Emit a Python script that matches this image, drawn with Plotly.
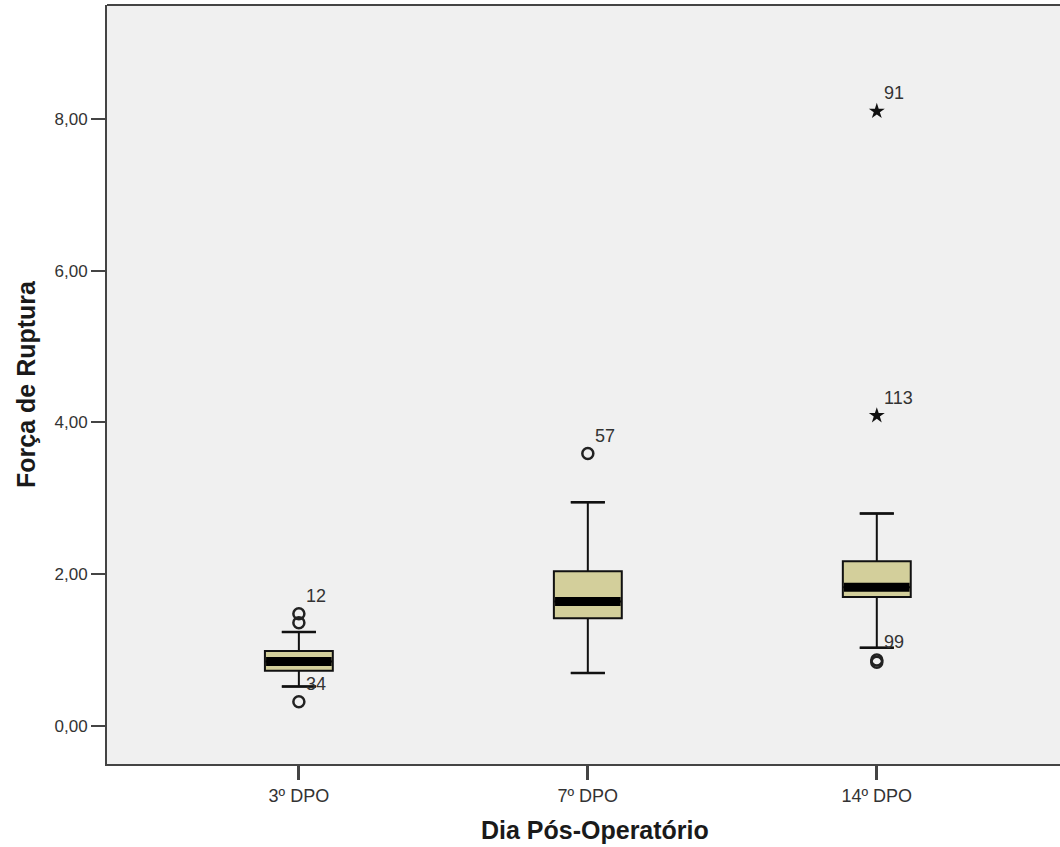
import plotly.graph_objects as go

# Grupos (dia pós-operatório) e estatísticas dos boxplots
groups = ["3º DPO", "7º DPO", "14º DPO"]
positions = [0, 1, 2]
q1 = [0.73, 1.42, 1.70]
median = [0.85, 1.64, 1.83]
q3 = [0.99, 2.04, 2.17]
whisker_low = [0.52, 0.70, 1.03]
whisker_high = [1.24, 2.95, 2.80]

# Valores atípicos (círculos) e extremos (estrelas), com o número do caso
outlier_group = [0, 0, 0, 1, 2, 2]
outlier_value = [1.48, 1.36, 0.32, 3.59, 0.87, 0.84]
outlier_case = ["12", "", "34", "57", "99", ""]

extreme_group = [2, 2]
extreme_value = [8.10, 4.09]
extreme_case = ["91", "113"]

y_ticks = [0, 2, 4, 6, 8]

BOX_W = 0.235
CAP_W = 0.118
FILL = "#d3cf9b"
INK = "#111111"
TEXT = "#333333"
FONT = "Liberation Sans, Arial, sans-serif"

fig = go.Figure()

fig.add_trace(go.Box(
    x=positions, q1=q1, median=median, q3=q3,
    lowerfence=whisker_low, upperfence=whisker_high,
    width=BOX_W, fillcolor=FILL,
    line=dict(color=INK, width=2),
    boxpoints=False, showlegend=False, hoverinfo="skip",
))

# Mediana em faixa espessa e travessões dos bigodes
for i, p in enumerate(positions):
    fig.add_trace(go.Scatter(
        x=[p - BOX_W / 2 + 0.004, p + BOX_W / 2 - 0.004], y=[median[i], median[i]],
        mode="lines", line=dict(color="black", width=9),
        showlegend=False, hoverinfo="skip",
    ))
    for w in (whisker_low[i], whisker_high[i]):
        fig.add_trace(go.Scatter(
            x=[p - CAP_W / 2, p + CAP_W / 2], y=[w, w],
            mode="lines", line=dict(color=INK, width=2.5),
            showlegend=False, hoverinfo="skip",
        ))

fig.add_trace(go.Scatter(
    x=[positions[g] for g in outlier_group], y=outlier_value,
    mode="markers",
    marker=dict(symbol="circle-open", size=11, color="#222222", line=dict(width=2.5, color="#222222")),
    showlegend=False, hoverinfo="skip",
))
fig.add_trace(go.Scatter(
    x=[positions[g] for g in extreme_group], y=extreme_value,
    mode="markers",
    marker=dict(symbol="star", size=12, color="#111111", line=dict(width=0)),
    showlegend=False, hoverinfo="skip",
))

# Rótulos com o número do caso
for g, v, lab in list(zip(outlier_group, outlier_value, outlier_case)) + list(zip(extreme_group, extreme_value, extreme_case)):
    if not lab:
        continue
    fig.add_annotation(
        x=positions[g], y=v, xref="x", yref="y", text=lab, showarrow=False,
        xanchor="left", yanchor="middle", xshift=5, yshift=18,
        font=dict(family=FONT, size=18, color=TEXT),
    )

fig.add_annotation(
    x=1, y=0, xref="x", yref="paper", text="<b>Dia Pós-Operatório</b>",
    showarrow=False, xanchor="center", yanchor="middle", xshift=7, yshift=-66,
    font=dict(family=FONT, size=25, color="#1a1a1a"),
)

# Moldura superior do painel (sem linha à direita)
fig.add_shape(
    type="line", xref="paper", yref="paper", x0=0, x1=1.01, y0=1, y1=1,
    line=dict(color="#444444", width=2), layer="above",
)

fig.update_layout(
    width=1060, height=847,
    margin=dict(l=107, r=0, t=5, b=83),
    paper_bgcolor="white", plot_bgcolor="#f0f0f0",
    separators=",.",
    font=dict(family=FONT, color=TEXT),
)
fig.update_xaxes(
    range=[-0.664, 2.634], tickvals=positions, ticktext=groups,
    showgrid=False, zeroline=False,
    showline=True, linecolor="#444444", linewidth=2, mirror=False,
    ticks="outside", ticklen=14, tickwidth=2.5, tickcolor="#444444",
    tickfont=dict(family=FONT, size=18, color=TEXT),
)
fig.update_yaxes(
    range=[-0.5, 9.5], tickvals=y_ticks, tickformat=".2f",
    showgrid=False, zeroline=False,
    showline=True, linecolor="#444444", linewidth=2, mirror=False,
    ticks="outside", ticklen=14, tickwidth=2, tickcolor="#444444",
    tickfont=dict(family=FONT, size=17, color=TEXT),
    title=dict(text="<b>Força de Ruptura</b>", font=dict(family=FONT, size=25, color="#1a1a1a"), standoff=12),
)

fig.write_html("out.html")
